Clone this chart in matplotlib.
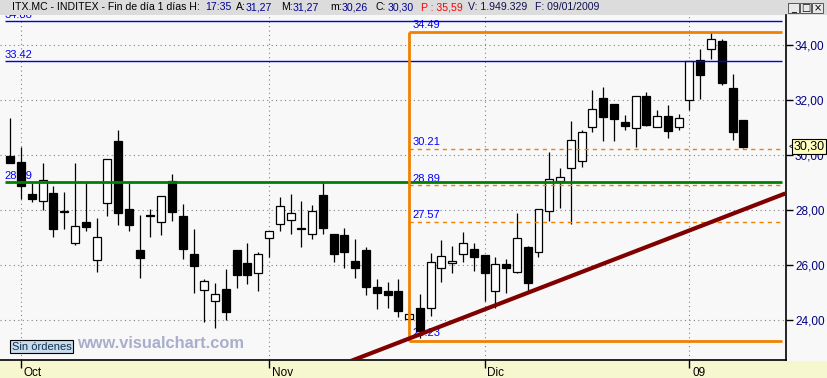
# plot.py
# ITX.MC (Inditex) daily candlestick chart, Visual Chart style

import matplotlib.pyplot as plt
import matplotlib.patches as mpatches
from matplotlib.transforms import blended_transform_factory

# ── Styling ──────────────────────────────────────────────────────────────────

plt.rcParams.update({
    'font.family': ['Liberation Sans', 'DejaVu Sans'],
    'font.size': 8,
})

# ── Data (30/09/2008 - 09/01/2009) ───────────────────────────────────────────

opens = [29.97, 29.74, 28.57, 28.31, 28.60, 27.96, 26.78, 27.55, 26.16, 28.24,
         30.50, 28.03, 26.54, 27.81, 27.55, 29.04, 27.77, 26.38, 25.07, 24.67,
         25.11, 26.53, 26.05, 25.69, 26.97, 27.48, 27.62, 27.34, 27.11, 28.54,
         27.12, 27.09, 26.14, 26.54, 25.19, 25.05, 25.05, 24.02, 24.42, 24.42,
         25.87, 26.06, 26.38, 26.58, 26.35, 25.04, 26.02, 25.73, 26.64, 26.46,
         27.97, 29.05, 29.52, 29.77, 31.01, 32.08, 31.87, 31.20, 30.97, 32.14,
         31.01, 31.41, 31.01, 31.99, 33.46, 33.85, 34.15, 32.43, 31.27]
highs = [31.35, 30.28, 28.97, 29.71, 28.87, 28.64, 29.71, 29.02, 27.70, 29.84,
         30.90, 28.98, 27.80, 28.02, 28.50, 29.31, 28.20, 27.29, 25.47, 25.33,
         25.84, 26.53, 26.78, 26.48, 27.24, 28.47, 28.58, 28.32, 28.18, 29.01,
         27.12, 27.33, 26.93, 26.64, 25.47, 25.37, 25.47, 24.54, 24.94, 26.44,
         26.90, 26.69, 27.20, 26.78, 26.35, 26.30, 26.21, 27.89, 26.69, 28.03,
         30.11, 29.53, 31.24, 30.90, 32.37, 32.49, 31.87, 31.46, 32.14, 32.29,
         31.64, 31.82, 31.49, 33.41, 33.85, 34.47, 34.22, 32.95, 31.27]
lows = [29.70, 28.39, 28.30, 28.01, 27.00, 27.29, 26.71, 27.24, 25.75, 27.79,
        27.46, 27.24, 25.53, 27.02, 27.09, 27.60, 26.22, 24.98, 23.93, 23.71,
        24.00, 25.17, 25.31, 25.06, 26.27, 27.24, 27.13, 26.66, 26.95, 27.13,
        26.11, 25.89, 25.53, 24.91, 24.40, 24.44, 24.11, 23.85, 23.35, 24.14,
        25.39, 25.71, 26.10, 25.79, 24.69, 24.42, 24.96, 25.70, 24.96, 26.30,
        27.59, 28.08, 27.50, 29.56, 30.85, 30.51, 30.51, 30.91, 30.29, 31.06,
        31.01, 30.63, 30.91, 31.64, 32.05, 33.49, 32.54, 30.56, 30.26]
closes = [29.70, 28.88, 28.39, 29.08, 27.29, 27.94, 27.40, 27.39, 27.00, 29.84,
          27.90, 27.46, 26.26, 27.77, 28.50, 27.93, 26.59, 25.97, 25.40, 24.93,
          24.27, 25.62, 25.62, 26.38, 27.24, 28.13, 27.89, 27.32, 27.96, 27.35,
          26.40, 26.48, 25.89, 25.20, 24.98, 24.91, 24.33, 24.21, 23.60, 26.09,
          26.31, 26.13, 26.79, 26.30, 25.71, 26.02, 25.90, 26.97, 25.35, 28.03,
          29.13, 29.19, 30.54, 30.83, 31.66, 31.39, 31.32, 31.06, 32.14, 31.10,
          31.41, 30.88, 31.34, 33.41, 32.92, 34.21, 32.63, 30.85, 30.30]

month_idx = [1, 24, 44, 63]
month_labels = ['Oct', 'Nov', 'Dic', '09']
price_ticks = [24, 26, 28, 30, 32, 34]
last_close = 30.30

# horizontal studies
blue_levels = [34.88, 33.42]
green_level = 29.0
green_label = '28.89'
fib_top, fib_bottom = 34.49, 23.23
fib_mid_levels = [30.21, 28.89, 27.57]
fib_x0 = 36.95
lines_x = (-0.5, 71.6)

trend_x = [31.6, 71.9]
trend_y = [22.50, 28.60]

header = [
    (12.5, 'ITX.MC - INDITEX - Fin de día 1 días H:', 'black'),
    (205, '17:35', '#000090'),
    (236, 'A:', 'black'), (246, '31,27', '#000090'),
    (281, 'M:', 'black'), (293, '31,27', '#000090'),
    (330, 'm:', 'black'), (342, '30,26', '#000090'),
    (376, 'C:', 'black'), (388, '30,30', '#000090'),
    (421, 'P : 35,59', '#FF0000'),
    (468, 'V: 1.949.329', '#101050'),
    (535, 'F: 09/01/2009', '#101050'),
]

# ── Figure ───────────────────────────────────────────────────────────────────

W, H = 828, 378
fig = plt.figure(figsize=(W / 100, H / 100), dpi=100, facecolor='#F8F8F8')
ax = fig.add_axes([0, 18 / H, 786 / W, 345 / H])
ax.set_facecolor('#F8F8F8')

ax.set_xlim(-0.955, 71.96)
ax.set_ylim(22.535, 35.098)

# grid
for p in price_ticks:
    ax.axhline(p, color='#808080', lw=0.8, ls=(0, (1, 3)), zorder=1)
for m in month_idx:
    ax.axvline(m, color='#808080', lw=0.8, ls=(0, (1, 3)), zorder=1)

# level labels (under candles)
lab_kw = dict(color='#0000FF', fontsize=8, va='bottom', clip_on=True, zorder=2)
for lv in blue_levels:
    ax.text(-0.5, lv + 0.05, f'{lv:.2f}', **lab_kw)
ax.text(-0.5, green_level + 0.05, green_label, **lab_kw)
ax.text(fib_x0 + 0.35, fib_top + 0.05, f'{fib_top:.2f}', **lab_kw)
for lv in fib_mid_levels:
    ax.text(fib_x0 + 0.35, lv + 0.07, f'{lv:.2f}', **lab_kw)
ax.text(fib_x0 + 0.35, fib_bottom + 0.12, f'{fib_bottom:.2f}', **lab_kw)

# candles
xs = range(len(opens))
ax.vlines(xs, lows, highs, color='black', lw=0.9, zorder=3)
bottoms = [min(o, c) for o, c in zip(opens, closes)]
heights = [max(abs(c - o), 0.01) for o, c in zip(opens, closes)]
colors = ['white' if c > o else 'black' for o, c in zip(opens, closes)]
ax.bar(xs, heights, bottom=bottoms, width=0.74, color=colors,
       edgecolor='black', linewidth=0.9, zorder=4)

# studies
for lv in blue_levels:
    ax.hlines(lv, *lines_x, color='#0000E0', lw=1.0, zorder=5)
ax.hlines(green_level, *lines_x, color='#008000', lw=2.0, zorder=5)
ax.hlines([fib_top, fib_bottom], fib_x0, lines_x[1], color='#F08000', lw=2.0, zorder=5)
ax.vlines(fib_x0, fib_bottom, fib_top, color='#F08000', lw=2.0, zorder=5)
ax.hlines(fib_mid_levels, fib_x0, lines_x[1], color='#F08000', lw=1.0,
          ls=(0, (3, 3)), zorder=5)
ax.plot(trend_x, trend_y, color='#800000', lw=3.0, solid_capstyle='butt', zorder=6)

# axes: right price scale, bottom month scale
for s in ['left', 'top']:
    ax.spines[s].set_visible(False)
ax.spines['right'].set_linewidth(1.2)
ax.spines['bottom'].set_linewidth(1.2)
ax.yaxis.tick_right()
ax.set_yticks(price_ticks)
ax.set_yticklabels([f'{p:.2f}'.replace('.', ',') for p in price_ticks])
ax.tick_params(axis='y', direction='out', length=5, width=1, color='black',
               labelcolor='#000080', labelsize=8.5, pad=1.5)
ax.set_xticks(month_idx)
ax.set_xticklabels([])
ax.tick_params(axis='x', direction='out', length=6, width=1, color='black')
trans = blended_transform_factory(ax.transData, ax.transAxes)
for m, lab in zip(month_idx, month_labels):
    ax.annotate(lab, (m, 0), xycoords=trans, xytext=(2, -9),
                textcoords='offset points', ha='left', va='center',
                fontsize=8.5, color='black', annotation_clip=False)

# bottom band
fig.patches.append(mpatches.Rectangle((0, 0), 1, 17.5 / H, transform=fig.transFigure,
                                      facecolor='#F7F7CF', edgecolor='none', zorder=-1))

# last price marker
ax.annotate('<', (1.0, last_close), xycoords=('axes fraction', 'data'),
            xytext=(1.5, 0), textcoords='offset points', ha='left', va='center',
            fontsize=7, color='black', annotation_clip=False)
ax.annotate('30,30', (1.0, last_close), xycoords=('axes fraction', 'data'),
            xytext=(5.3, 0), textcoords='offset points', ha='left', va='center',
            fontsize=9, color='black', annotation_clip=False, zorder=10,
            bbox=dict(boxstyle='square,pad=0.12', fc='#FFFFC0', ec='black', lw=0.8))

# header bar
fig.patches.append(mpatches.Rectangle((0, 1 - 15 / H), 1, 15 / H, transform=fig.transFigure,
                                      facecolor='#DCDCDC', edgecolor='none', zorder=-1))
for xp, txt, col in header:
    fig.text(xp / W, 1 - 7.5 / H, txt, color=col, fontsize=7.6, ha='left', va='center')
for i, glyph in enumerate(['_', '□', '×']):
    x0 = 788 + i * 12
    fig.patches.append(mpatches.Rectangle((x0 / W, 1 - 13 / H), 11 / W, 10 / H,
                                          transform=fig.transFigure, facecolor='#E8E8E8',
                                          edgecolor='#404040', lw=0.6))
    fig.text((x0 + 5.5) / W, 1 - 8 / H, glyph, fontsize=7, ha='center', va='center',
             family='DejaVu Sans', color='black')

# watermark and order box
fig.text(12 / W, 1 - 346.5 / H, 'Sin órdenes', fontsize=8, color='#103050', va='center',
         bbox=dict(boxstyle='square,pad=0.15', fc='#C8DCEC', ec='black', lw=0.8))
fig.text(77 / W, 1 - 344 / H, 'www.visualchart.com', fontsize=11.8, fontweight='bold',
         color='#A8AECB', va='center')

fig.savefig('out.png', dpi=100, facecolor=fig.get_facecolor())
